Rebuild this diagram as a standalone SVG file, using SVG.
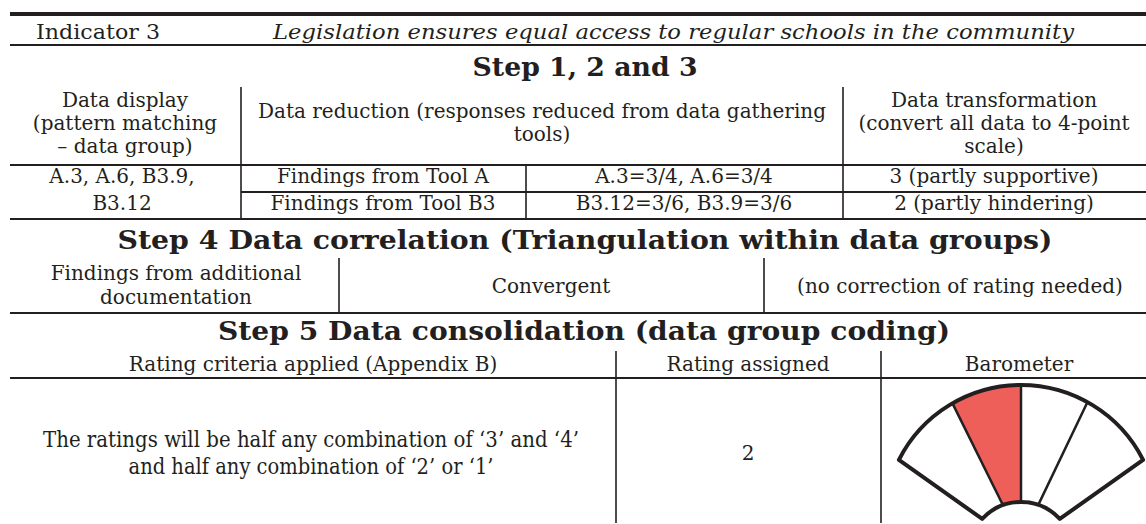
<svg xmlns="http://www.w3.org/2000/svg" width="1146" height="524" viewBox="0 0 1146 524">
<style>
text{font-family:"DejaVu Serif","Liberation Serif",serif;fill:#231f20;font-size:20px}
.c{text-anchor:middle}
.i{font-style:italic}
.h{font-weight:bold;font-size:26px;text-anchor:middle}
.b{font-size:22px;text-anchor:middle}
.hl{stroke:#231f20;stroke-width:2;fill:none}
.vl{stroke:#231f20;stroke-width:1.6;fill:none}
</style>
<rect width="1146" height="524" fill="#fff"/>
<g id="lines">
<line x1="10" y1="14" x2="1146" y2="14" stroke="#231f20" stroke-width="4"/>
<line class="hl" x1="10" y1="45" x2="1146" y2="45"/>
<line class="hl" x1="10" y1="165" x2="1146" y2="165"/>
<line class="hl" x1="241" y1="192" x2="1146" y2="192"/>
<line class="hl" x1="10" y1="219" x2="1146" y2="219"/>
<line class="hl" x1="10" y1="313" x2="1146" y2="313"/>
<line class="hl" x1="10" y1="378" x2="1146" y2="378"/>
<line class="vl" x1="241" y1="87" x2="241" y2="219"/>
<line class="vl" x1="843" y1="87" x2="843" y2="219"/>
<line class="vl" x1="526" y1="165" x2="526" y2="219"/>
<line class="vl" x1="339" y1="258" x2="339" y2="313"/>
<line class="vl" x1="764" y1="258" x2="764" y2="313"/>
<line class="vl" x1="616" y1="351" x2="616" y2="523"/>
<line class="vl" x1="881" y1="351" x2="881" y2="523"/>
</g>
<g id="indicator">
<text x="36" y="39" textLength="124" lengthAdjust="spacingAndGlyphs">Indicator 3</text>
<text class="i" x="273" y="39" textLength="801" lengthAdjust="spacingAndGlyphs">Legislation ensures equal access to regular schools in the community</text>
</g>
<g id="step123">
<text class="h" x="585" y="76" textLength="225" lengthAdjust="spacingAndGlyphs">Step 1, 2 and 3</text>
<text class="c" x="125" y="107">Data display</text>
<text class="c" x="125" y="130">(pattern matching</text>
<text class="c" x="125" y="153">– data group)</text>
<text class="c" x="542" y="118">Data reduction (responses reduced from data gathering</text>
<text class="c" x="542" y="141">tools)</text>
<text class="c" x="994" y="107">Data transformation</text>
<text class="c" x="994" y="130">(convert all data to 4-point</text>
<text class="c" x="994" y="153">scale)</text>
<text class="c" x="122" y="183">A.3, A.6, B3.9,</text>
<text class="c" x="122" y="210">B3.12</text>
<text class="c" x="383" y="183">Findings from Tool A</text>
<text class="c" x="383" y="210">Findings from Tool B3</text>
<text class="c" x="684" y="183">A.3=3/4, A.6=3/4</text>
<text class="c" x="684" y="210">B3.12=3/6, B3.9=3/6</text>
<text class="c" x="994" y="183">3 (partly supportive)</text>
<text class="c" x="994" y="210">2 (partly hindering)</text>
</g>
<g id="step4">
<text class="h" x="585" y="249" textLength="935" lengthAdjust="spacingAndGlyphs">Step 4 Data correlation (Triangulation within data groups)</text>
<text class="c" x="176" y="280">Findings from additional</text>
<text class="c" x="176" y="304">documentation</text>
<text class="c" x="551" y="293">Convergent</text>
<text class="c" x="960" y="293">(no correction of rating needed)</text>
</g>
<g id="step5">
<text class="h" x="584" y="340" textLength="732" lengthAdjust="spacingAndGlyphs">Step 5 Data consolidation (data group coding)</text>
<text class="c" x="313" y="371">Rating criteria applied (Appendix B)</text>
<text class="c" x="748" y="371">Rating assigned</text>
<text class="c" x="1019" y="371">Barometer</text>
<text class="b" x="311" y="447" textLength="536" lengthAdjust="spacingAndGlyphs">The ratings will be half any combination of ‘3’ and ‘4’</text>
<text class="b" x="311" y="474" textLength="365" lengthAdjust="spacingAndGlyphs">and half any combination of ‘2’ or ‘1’</text>
<text class="c" x="748" y="460">2</text>
</g>
<g id="barometer">
<path d="M952.5 403.4 A137 137 0 0 1 1021 385 L1021 502 A53 53 0 0 0 1003 505.3 Z" fill="#ef5f59"/>
<g stroke="#231f20" stroke-width="2.5">
<line x1="952.5" y1="403.4" x2="1003" y2="505.3"/>
<line x1="1021" y1="385" x2="1021" y2="502"/>
<line x1="1087.4" y1="402.2" x2="1038.3" y2="504.9"/>
</g>
<path d="M898.9 459.8 A137 137 0 0 1 1143.1 459.8 L1059.8 518.9 A53 53 0 0 0 982.2 518.9 Z" fill="none" stroke="#231f20" stroke-width="4" stroke-linejoin="round"/>
</g>
</svg>
